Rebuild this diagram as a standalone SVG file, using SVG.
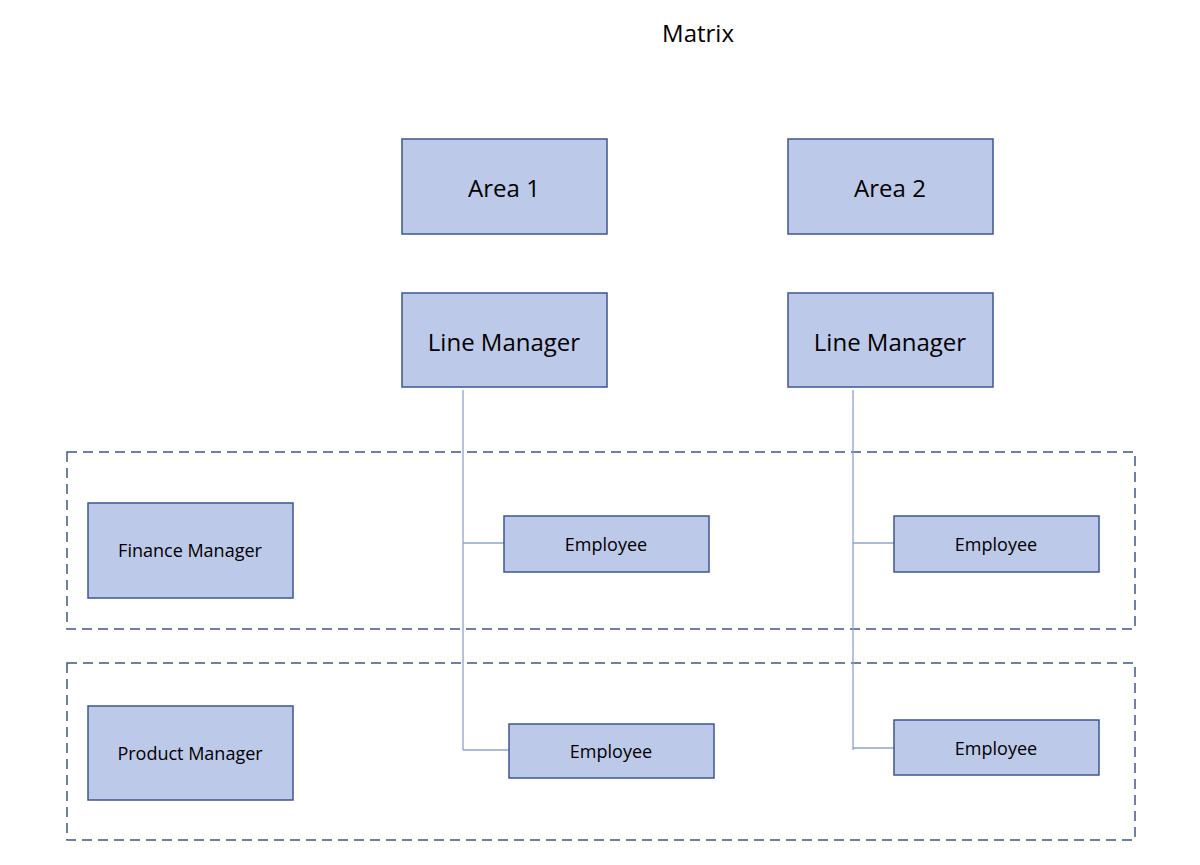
<svg xmlns="http://www.w3.org/2000/svg" width="1200" height="865" viewBox="0 0 1200 865">
<style>
.n{fill:#bdc9e8;stroke:#3e5591;stroke-width:1.5}
.t{font-family:"Open Sans","Noto Sans",sans-serif;fill:#000;text-anchor:middle;dominant-baseline:central}
.c{stroke:#8fa2d4;stroke-width:1.3;fill:none}
.d{fill:none;stroke:#3e5591;stroke-width:1.5;stroke-dasharray:10 6}
</style>
<rect width="1200" height="865" fill="#fff"/>
<text class="t" x="698" y="32" font-size="24">Matrix</text>
<rect class="d" x="67" y="452" width="1068" height="177"/>
<rect class="d" x="67" y="663" width="1068" height="177"/>
<g id="connectors">
<path class="c" d="M463 390V750M463 543H504M463 750H509"/>
<path class="c" d="M853 390V750M853 543H894M853 748H894"/>
</g>
<g id="area1"><rect class="n" x="402" y="139" width="205" height="95"/><text class="t" x="504" y="187" font-size="24">Area 1</text></g>
<g id="area2"><rect class="n" x="788" y="139" width="205" height="95"/><text class="t" x="890" y="187" font-size="24">Area 2</text></g>
<g id="lm1"><rect class="n" x="402" y="293" width="205" height="94"/><text class="t" x="504" y="341" font-size="24">Line Manager</text></g>
<g id="lm2"><rect class="n" x="788" y="293" width="205" height="94"/><text class="t" x="890" y="341" font-size="24">Line Manager</text></g>
<g id="fm"><rect class="n" x="88" y="503" width="205" height="95"/><text class="t" x="190" y="550" font-size="18">Finance Manager</text></g>
<g id="pm"><rect class="n" x="88" y="706" width="205" height="94"/><text class="t" x="190" y="753" font-size="18">Product Manager</text></g>
<g id="e1"><rect class="n" x="504" y="516" width="205" height="56"/><text class="t" x="606" y="544" font-size="18">Employee</text></g>
<g id="e2"><rect class="n" x="894" y="516" width="205" height="56"/><text class="t" x="996" y="544" font-size="18">Employee</text></g>
<g id="e3"><rect class="n" x="509" y="724" width="205" height="54"/><text class="t" x="611" y="751" font-size="18">Employee</text></g>
<g id="e4"><rect class="n" x="894" y="720" width="205" height="55"/><text class="t" x="996" y="748" font-size="18">Employee</text></g>
</svg>
